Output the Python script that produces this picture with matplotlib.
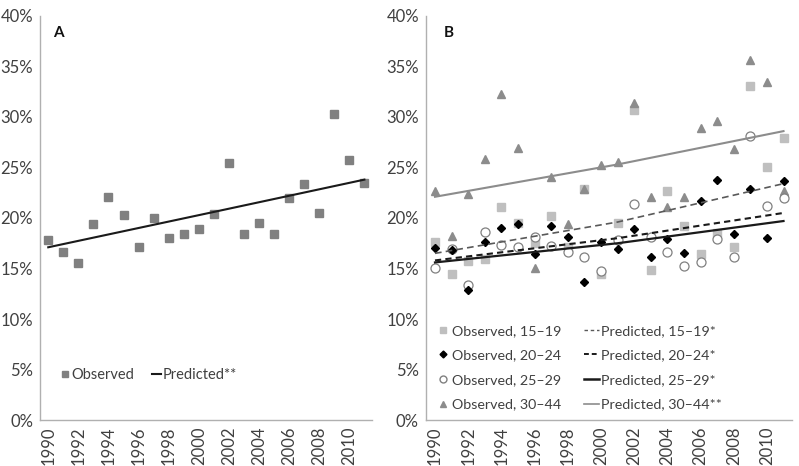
import matplotlib
matplotlib.use("Agg")
import matplotlib.pyplot as plt
from matplotlib.ticker import PercentFormatter
from matplotlib.lines import Line2D

# Años
years = list(range(1990, 2012))

# Panel A: total
obs_total = [17.8, 16.6, 15.5, 19.4, 22.1, 20.3, 17.1, 20.0, 18.0, 18.4, 18.9,
             20.4, 25.4, 18.4, 19.5, 18.4, 22.0, 23.4, 20.5, 30.3, 25.7, 23.5]
pred_years = [1990, 2001, 2011]
pred_total = [17.1, 20.6, 23.8]

# Panel B: por grupo de edad
obs_15_19 = [17.6, 14.5, 15.7, 15.9, 21.1, 19.5, 17.5, 20.2, 17.1, 22.9, 14.5,
             19.5, 30.7, 14.9, 22.7, 19.2, 16.4, 18.5, 17.1, 33.1, 25.0, 27.9]
obs_20_24 = [17.0, 16.8, 12.9, 17.6, 19.0, 19.4, 16.4, 19.2, 18.1, 13.7, 17.6,
             16.9, 18.9, 16.1, 17.9, 16.5, 21.7, 23.8, 18.4, 22.9, 18.0, 23.7]
obs_25_29 = [15.0, 16.9, 13.4, 18.6, 17.3, 17.1, 18.1, 17.2, 16.6, 16.1, 14.8,
             17.8, 21.4, 18.1, 16.6, 15.2, 15.6, 17.9, 16.1, 28.1, 21.2, 22.0]
obs_30_44 = [22.7, 18.2, 22.4, 25.8, 32.3, 26.9, 15.0, 24.1, 19.4, 22.9, 25.2,
             25.5, 31.4, 22.1, 21.1, 22.1, 28.9, 29.6, 26.8, 35.6, 33.5, 22.7]
pred_15_19 = [16.5, 19.6, 23.4]
pred_20_24 = [15.8, 18.0, 20.5]
pred_25_29 = [15.6, 17.5, 19.7]
pred_30_44 = [22.1, 25.3, 28.6]

xticks = list(range(1990, 2011, 2))
text_color = '#404040'
spine_color = '#b0b0b0'

plt.rcParams['font.family'] = ['Lato', 'DejaVu Sans']

fig = plt.figure(figsize=(7.99, 4.66), dpi=100)
axA = fig.add_axes([0.050, 0.0987, 0.4155, 0.8670])
axB = fig.add_axes([0.533, 0.0987, 0.4580, 0.8670])


def style(ax):
    ax.set_xlim(1989.45, 2011.5)
    ax.set_ylim(0, 40)
    ax.set_yticks(range(0, 41, 5))
    ax.yaxis.set_major_formatter(PercentFormatter(decimals=0))
    ax.set_xticks(xticks)
    ax.set_xticklabels([str(y) for y in xticks], rotation=90)
    for s in ['top', 'right']:
        ax.spines[s].set_visible(False)
    for s in ['left', 'bottom']:
        ax.spines[s].set_color(spine_color)
        ax.spines[s].set_linewidth(1.0)
    ax.tick_params(axis='both', length=0, labelsize=12, colors=text_color, pad=5)


# Panel A
style(axA)
axA.plot(years, obs_total, 's', color='#808080', markersize=6, label='Observed')
axA.plot(pred_years, pred_total, '-', color='#1a1a1a', linewidth=1.5, label='Predicted**')
axA.text(0.04, 0.975, 'A', transform=axA.transAxes, fontsize=11, fontweight='bold',
         va='top', ha='left', color='#111111')
axA.legend(loc='lower left', bbox_to_anchor=(0.045, 0.08), ncol=2, frameon=False,
           fontsize=10.5, handlelength=0.6, handletextpad=0.1, columnspacing=1.25,
           borderaxespad=0, markerscale=0.8, labelcolor=text_color)

# Panel B
style(axB)
axB.plot(years, obs_15_19, 's', color='#bfbfbf', markersize=5.5)
axB.plot(years, obs_30_44, '^', color='#8c8c8c', markersize=5.5)
axB.plot(years, obs_25_29, 'o', markerfacecolor='white', markeredgecolor='#808080',
         markersize=6.5, markeredgewidth=0.9)
axB.plot(years, obs_20_24, 'D', color='black', markersize=4.5)
axB.plot(pred_years, pred_30_44, '-', color='#8c8c8c', linewidth=1.5)
axB.plot(pred_years, pred_15_19, '--', color='#595959', linewidth=1.2, dashes=(4, 2.5))
axB.plot(pred_years, pred_20_24, '--', color='#1a1a1a', linewidth=1.5, dashes=(3, 2))
axB.plot(pred_years, pred_25_29, '-', color='#1a1a1a', linewidth=1.6)
axB.text(0.05, 0.975, 'B', transform=axB.transAxes, fontsize=11, fontweight='bold',
         va='top', ha='left', color='#111111')

handles = [
    Line2D([], [], marker='s', linestyle='none', color='#bfbfbf', markersize=4),
    Line2D([], [], marker='D', linestyle='none', color='black', markersize=3.5),
    Line2D([], [], marker='o', linestyle='none', markerfacecolor='white',
           markeredgecolor='#808080', markersize=5),
    Line2D([], [], marker='^', linestyle='none', color='#8c8c8c', markersize=4.5),
    Line2D([], [], linestyle='--', color='#595959', linewidth=1.0, dashes=(2.5, 2)),
    Line2D([], [], linestyle='--', color='#1a1a1a', linewidth=1.4, dashes=(2.5, 1.5)),
    Line2D([], [], linestyle='-', color='#1a1a1a', linewidth=1.8),
    Line2D([], [], linestyle='-', color='#8c8c8c', linewidth=1.2),
]
labels = ['Observed, 15\u201319', 'Observed, 20\u201324', 'Observed, 25\u201329',
          'Observed, 30\u201344', 'Predicted, 15\u201319*', 'Predicted, 20\u201324*',
          'Predicted, 25\u201329*', 'Predicted, 30\u201344**']
axB.legend(handles, labels, loc='lower left', bbox_to_anchor=(0.011, 0.009), ncol=2,
           frameon=False, fontsize=10.3, handlelength=1.0, handletextpad=0.15,
           columnspacing=1.6, labelspacing=0.88, borderaxespad=0,
           labelcolor=text_color)

plt.savefig('out.png', dpi=100)
